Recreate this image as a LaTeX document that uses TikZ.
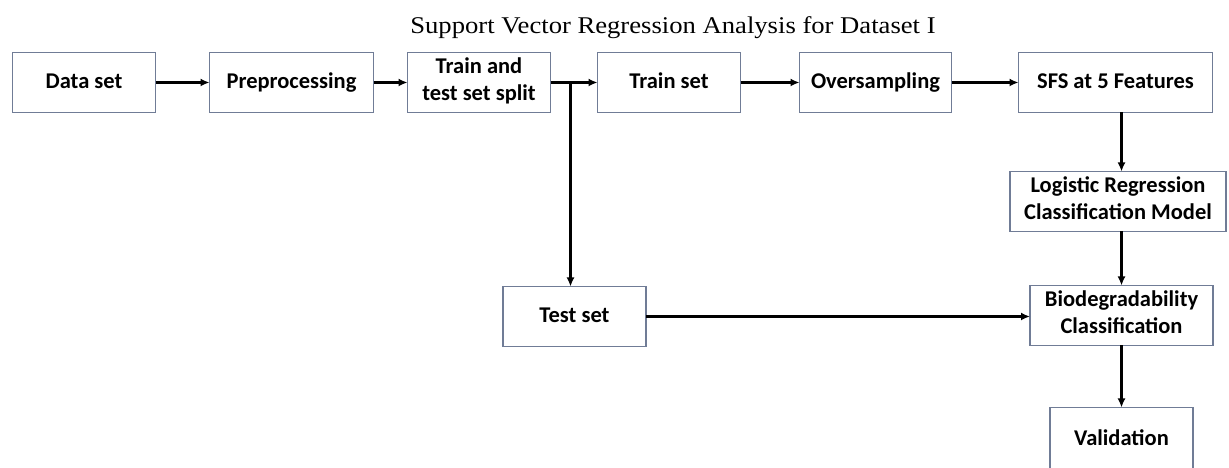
\documentclass[tikz,border=0pt]{standalone}
\usepackage{fontspec}
\setmainfont{Carlito}
\newfontfamily\captionfont[FakeStretch=1.11]{Liberation Serif}
\usepackage{xcolor}
\usepackage{tikz}
\usetikzlibrary{arrows.meta,positioning,calc}
\definecolor{SVRedge}{RGB}{112,124,150}
\newcommand{\fstrut}{\rule[-7pt]{0pt}{26pt}}
\tikzstyle{fbox}  = [rectangle, draw=SVRedge, line width=1.3pt, fill=white,
                     minimum width=143pt, minimum height=60pt, outer sep=0pt,
                     align=center, inner xsep=4pt, inner ysep=2pt,
                     font=\fontsize{22.5}{27}\selectfont\bfseries,
                     execute at begin node=\fstrut, execute at end node=\fstrut]
\tikzstyle{ftitle} = [anchor=base, inner sep=0pt,
                      font=\captionfont\fontsize{24}{28}\selectfont]

\begin{document}
\begin{tikzpicture}[x=1pt, y=1pt, >={Latex[length=9pt,width=8pt]}, line width=2.6pt]
  \useasboundingbox (0,0) rectangle (1229,468);
  \node[ftitle] (title) at (673,434) {Support Vector Regression Analysis for Dataset I};

  % top row
  \node[fbox] (ds) at (84,385.5) {Data set};
  \node[fbox, right=54pt of ds, minimum width=164pt] (pre) {Preprocessing};
  \node[fbox, right=34pt of pre] (split) {Train and\\test set split};
  \node[fbox, right=47pt of split] (ts) {Train set};
  \node[fbox, right=59pt of ts, minimum width=152pt] (over) {Oversampling};
  \node[fbox, right=67pt of over, minimum width=194pt] (sfs) {SFS at 5 Features};

  % right column
  \node[fbox, below=59pt of sfs, xshift=2.5pt, minimum width=216pt] (lr) {Logistic Regression\\Classification Model};
  \node[fbox, below=54pt of lr, xshift=3.5pt, minimum width=183pt] (bio) {Biodegradability\\Classification};
  \node[fbox, below=62pt of bio, minimum height=64pt] (val) {Validation};

  \node[fbox] (test) at (574.5,151.5) {Test set};
  \coordinate[right=20pt of split.east] (br);

  \draw[->] (ds) -- (pre);
  \draw[->] (pre) -- (split);
  \draw[->] (split) -- (ts);
  \draw[->] (ts) -- (over);
  \draw[->] (over) -- (sfs);
  \draw[->] (br) -- (br |- test.north);
  \draw[->] (sfs.south -| bio.north) -- (lr.north -| bio.north);
  \draw[->] (lr.south -| bio.north) -- (bio.north);
  \draw[->] (bio.south) -- (val.north);
  \draw[->] (test.east) -- (test.east -| bio.west);
\end{tikzpicture}
\end{document}
